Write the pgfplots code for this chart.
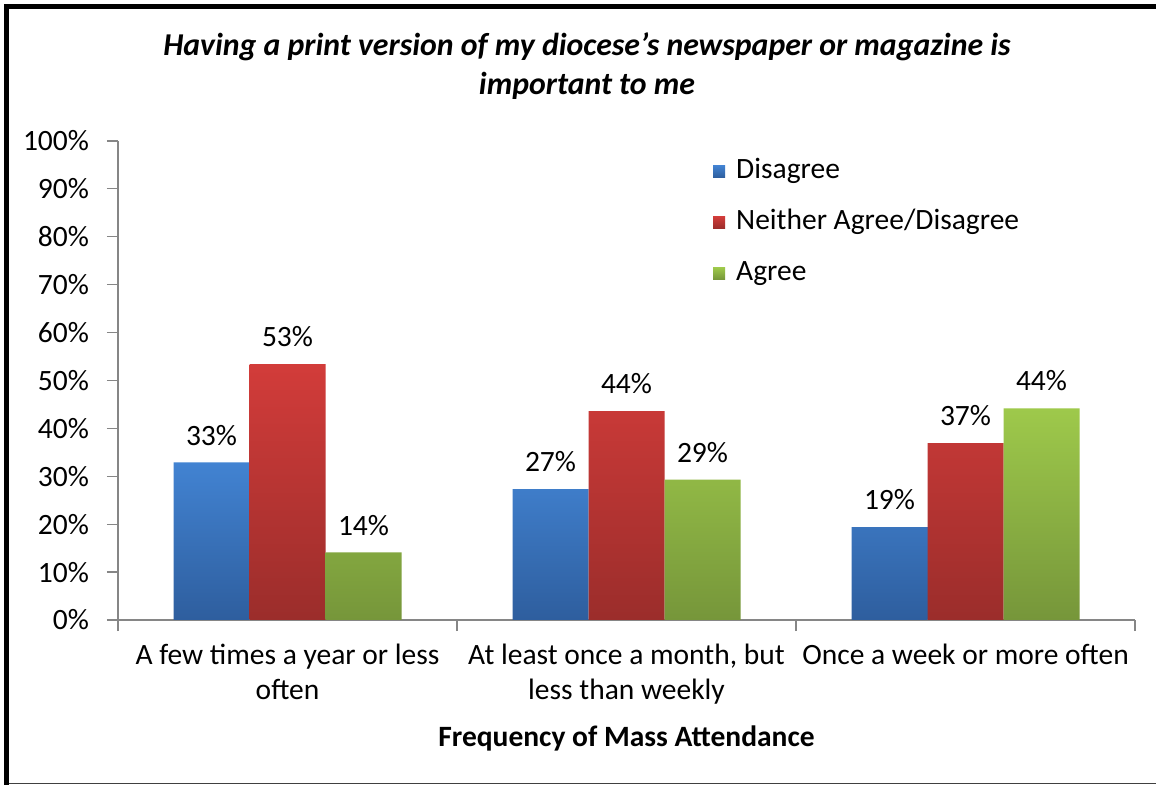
\documentclass[border=0pt]{standalone}
\usepackage{fontspec}
\setmainfont{Carlito}
\usepackage{pgfplots}
\pgfplotsset{compat=1.18}

\definecolor{blueT}{RGB}{66,131,210}
\definecolor{blueB}{RGB}{46,94,158}
\definecolor{redT}{RGB}{210,60,58}
\definecolor{redB}{RGB}{155,45,43}
\definecolor{greenT}{RGB}{158,201,75}
\definecolor{greenB}{RGB}{118,150,58}
\definecolor{axisgray}{RGB}{134,134,134}

\newcommand{\lblfont}{\fontsize{14.75bp}{17.5bp}\selectfont}

\begin{document}
\begin{tikzpicture}
\useasboundingbox[fill=white] (0,0) rectangle (578bp,392.5bp);
% chart frame (screenshot edges)
\draw[black, line width=2.5bp] (3.25bp,0) -- (3.25bp,389.25bp) -- (578bp,389.25bp);
\draw[black!75, line width=0.6bp] (4.5bp,0.6bp) -- (578bp,0.6bp);

\node[font=\fontsize{15.9bp}{19.5bp}\selectfont\bfseries\itshape, align=center]
  at (293.5bp,359.5bp) {Having a print version of my diocese’s newspaper or magazine is\\important to me};

\begin{axis}[
  at={(59bp,82.5bp)}, anchor=south west,
  width=508.5bp, height=239.5bp, scale only axis,
  ybar=0pt, bar width=38bp,
  xmin=-0.5, xmax=2.5, ymin=0, ymax=100,
  axis x line*=bottom, axis y line*=left,
  axis line style={axisgray, line width=0.6bp},
  tick style={axisgray, line width=0.6bp},
  tick align=outside, major tick length=5.5bp,
  xtick={-0.5,0.5,1.5,2.5},
  x tick label as interval,
  xticklabels={{A few times a year or less\\often},{At least once a month, but\\less than weekly},{Once a week or more often}},
  xticklabel style={align=center, font=\lblfont, yshift=-3bp},
  ytick={0,10,...,100},
  yticklabels={0\%,10\%,20\%,30\%,40\%,50\%,60\%,70\%,80\%,90\%,100\%},
  yticklabel style={font=\lblfont, xshift=-5.5bp},
  xlabel={Frequency of Mass Attendance},
  xlabel style={font=\lblfont\bfseries, at={(axis description cs:0.5,-0.248)}, anchor=center},
  nodes near coords, point meta=explicit symbolic,
  every node near coord/.append style={font=\lblfont, black, yshift=5bp},
  legend style={at={(rel axis cs:0.579,0.981)}, anchor=north west, draw=none, fill=none,
    font=\lblfont, row sep=8.5bp,
    nodes={text height=10bp, text depth=3bp, inner sep=2bp}},
  legend cell align=left,
  legend image code/.code={\fill[#1] (0bp,-3bp) rectangle (6bp,3bp);},
  /tikz/every odd column/.append style={column sep=3.5bp},
]
\addplot[draw=none, top color=blueT, bottom color=blueB]
  coordinates {(0,32.9) [33\%] (1,27.3) [27\%] (2,19.4) [19\%]};
\addplot[draw=none, top color=redT, bottom color=redB]
  coordinates {(0,53.4) [53\%] (1,43.6) [44\%] (2,36.9) [37\%]};
\addplot[draw=none, top color=greenT, bottom color=greenB]
  coordinates {(0,14.1) [14\%] (1,29.3) [29\%] (2,44.2) [44\%]};
\legend{Disagree, Neither Agree/Disagree, Agree}
\end{axis}
\end{tikzpicture}
\end{document}
